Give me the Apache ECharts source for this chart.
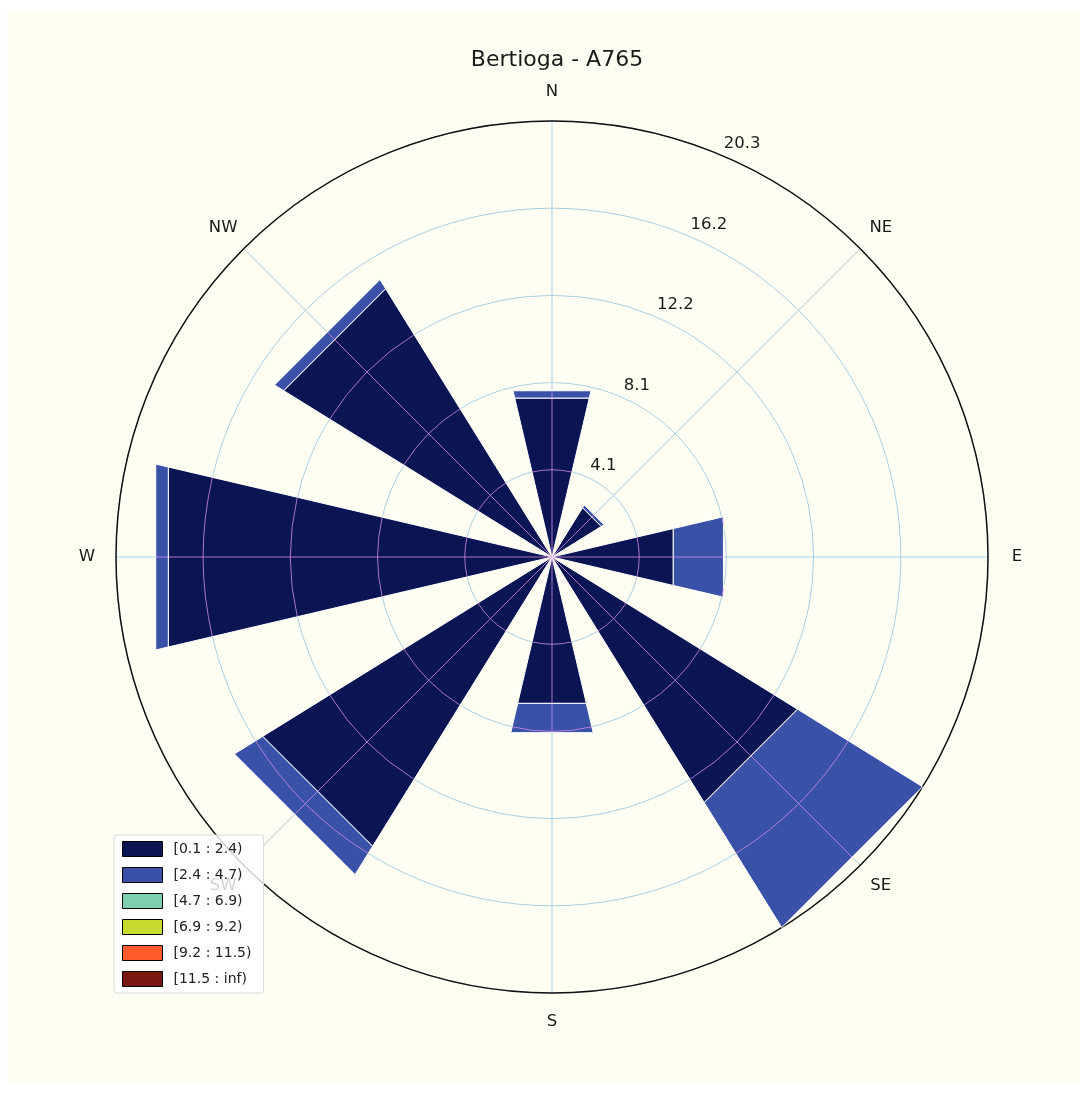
<!DOCTYPE html>
<html>
<head>
<meta charset="utf-8">
<title>Bertioga - A765</title>
<script src="https://cdn.jsdelivr.net/npm/echarts@6/dist/echarts.min.js"></script>
<style>
  html, body { margin: 0; padding: 0; background: #ffffff; }
  #chart { position: absolute; left: 7px; top: 10px; width: 1073px; height: 1073px; }
</style>
</head>
<body>
<div id="chart"></div>
<script>
// Wind directions (one sector each, clockwise from north)
const directions = ['N', 'NE', 'E', 'SE', 'S', 'SW', 'W', 'NW'];

// Wind speed classes (m/s)
const speedBins = ['[0.1 : 2.4)', '[2.4 : 4.7)', '[4.7 : 6.9)', '[6.9 : 9.2)', '[9.2 : 11.5)', '[11.5 : inf)'];

// Frequency (%) of each speed class per direction
const freq_01_24  = [7.6, 2.7, 5.8, 13.45, 7.0, 15.85, 18.35, 14.7];
const freq_24_47  = [0.35, 0.15, 2.4, 6.85, 1.4, 1.55, 0.6, 0.5];
const freq_47_69  = [0, 0, 0, 0, 0, 0, 0, 0];
const freq_69_92  = [0, 0, 0, 0, 0, 0, 0, 0];
const freq_92_115 = [0, 0, 0, 0, 0, 0, 0, 0];
const freq_115_inf = [0, 0, 0, 0, 0, 0, 0, 0];

// Radial rings: outer ring equals the largest sector total
const ringMax = 20.3;
const ringCount = 5;
const ringValues = Array.from({ length: ringCount }, (_, i) => ringMax * (i + 1) / ringCount);

const binFreqs = [freq_01_24, freq_24_47, freq_47_69, freq_69_92, freq_92_115, freq_115_inf];
const binColors = ['#0b1553', '#3a51a8', '#7fcfae', '#c8da2e', '#ff5b2c', '#7a1710'];

const sectorStep = 360 / directions.length;
const halfOpen = 13.2;                 // half angular width of each wedge (deg)
const cosHalf = Math.cos(halfOpen * Math.PI / 180);
const innerLine = 'rgba(210,140,230,0.8)';
const dirLabelGap = 29;                // px between outer circle and direction label centre
const textFont = 'DejaVu Sans';

function wedgeRenderer(params, api) {
  const a = api.value(0), lo = api.value(1), hi = api.value(2);
  if (!(hi > lo)) return;
  const c = api.coord([0, 0]);
  const ref = api.coord([ringMax, 0]);
  const pxPer = Math.hypot(ref[0] - c[0], ref[1] - c[1]) / ringMax;
  const pts = lo > 0
    ? [api.coord([lo, a - halfOpen]), api.coord([lo, a + halfOpen]), api.coord([hi, a + halfOpen]), api.coord([hi, a - halfOpen])]
    : [c, api.coord([hi, a + halfOpen]), api.coord([hi, a - halfOpen])];
  const children = [{
    type: 'polygon',
    shape: { points: pts },
    style: { fill: api.visual('color'), stroke: '#ffffff', lineWidth: 1 }
  }];
  // direction line through the wedge
  const p0 = api.coord([lo * cosHalf, a]);
  const p1 = api.coord([hi * cosHalf, a]);
  children.push({
    type: 'line',
    shape: { x1: p0[0], y1: p0[1], x2: p1[0], y2: p1[1] },
    style: { stroke: innerLine, lineWidth: 1 }
  });
  // ring arcs clipped to the wedge
  const dLo = lo * cosHalf, dHi = hi * cosHalf;
  ringValues.forEach(R => {
    const f1 = R <= dHi ? 0 : Math.acos(Math.min(1, dHi / R));
    let f2;
    if (dLo / R >= 1) f2 = 0;
    else if (dLo / R > cosHalf) f2 = Math.acos(dLo / R);
    else f2 = halfOpen * Math.PI / 180;
    if (f2 <= f1 + 1e-6) return;
    const base = (a - 90) * Math.PI / 180;
    const r = R * pxPer;
    const spans = f1 === 0 ? [[-f2, f2]] : [[-f2, -f1], [f1, f2]];
    spans.forEach(s => {
      children.push({
        type: 'arc',
        shape: { cx: c[0], cy: c[1], r: r, startAngle: base + s[0], endAngle: base + s[1], clockwise: true },
        style: { stroke: innerLine, lineWidth: 1, fill: null }
      });
    });
  });
  return { type: 'group', children: children };
}

// stacked wedges per speed class
const cumulative = directions.map(() => 0);
const wedgeSeries = speedBins.map((name, k) => {
  const data = directions.map((d, i) => {
    const lo = cumulative[i];
    const hi = lo + binFreqs[k][i];
    cumulative[i] = hi;
    return [i * sectorStep, lo, hi];
  });
  return {
    name: name,
    type: 'custom',
    coordinateSystem: 'polar',
    polarIndex: 0,
    itemStyle: { color: binColors[k] },
    renderItem: wedgeRenderer,
    data: data,
    z: 2,
    silent: true
  };
});

// ring value labels along 22.5 deg
const ringLabelSeries = {
  type: 'custom',
  coordinateSystem: 'polar',
  polarIndex: 0,
  silent: true,
  z: 5,
  data: ringValues.map(v => [v]),
  renderItem: function (params, api) {
    const v = api.value(0);
    const p = api.coord([v, 22.5]);
    return {
      type: 'text',
      x: p[0] + 5,
      y: p[1] - 2,
      style: {
        text: v.toFixed(1),
        fill: '#1a1a1a',
        fontSize: 16.5,
        fontFamily: textFont,
        align: 'left',
        verticalAlign: 'bottom'
      }
    };
  }
};

// compass labels centred just outside the outer circle
const dirLabelSeries = {
  type: 'custom',
  coordinateSystem: 'polar',
  polarIndex: 0,
  silent: true,
  z: 1,
  data: directions.map((d, i) => [i * sectorStep]),
  renderItem: function (params, api) {
    const a = api.value(0);
    const c = api.coord([0, 0]);
    const p = api.coord([ringMax, a]);
    const dx = p[0] - c[0], dy = p[1] - c[1];
    const len = Math.hypot(dx, dy);
    const k = (len + dirLabelGap) / len;
    return {
      type: 'text',
      x: c[0] + dx * k,
      y: c[1] + dy * k,
      style: {
        text: directions[params.dataIndex],
        fill: '#1a1a1a',
        fontSize: 16.5,
        fontFamily: textFont,
        align: 'center',
        verticalAlign: 'middle'
      }
    };
  }
};

const chart = echarts.init(document.getElementById('chart'));
chart.setOption({
  backgroundColor: '#fffef2',
  animation: false,
  title: {
    text: 'Bertioga - A765',
    left: 545,
    textAlign: 'center',
    top: 34,
    textStyle: { fontFamily: textFont, fontSize: 22, fontWeight: 'normal', color: '#1a1a1a' }
  },
  legend: {
    data: speedBins,
    orient: 'vertical',
    left: 107,
    top: 825,
    icon: 'rect',
    itemWidth: 40,
    itemHeight: 15,
    itemGap: 10,
    padding: [6, 12, 6, 8],
    backgroundColor: 'rgba(255,255,255,0.8)',
    borderColor: '#dadada',
    borderWidth: 1,
    borderRadius: 3,
    itemStyle: { borderColor: '#000000', borderWidth: 1 },
    textStyle: { fontFamily: textFont, fontSize: 14, color: '#222222', padding: [0, 0, 0, 6] },
    selectedMode: false,
    z: 10
  },
  polar: { center: [545, 547], radius: 436 },
  angleAxis: {
    type: 'value',
    min: 0,
    max: 360,
    interval: sectorStep,
    startAngle: 90,
    clockwise: true,
    axisLine: { show: true, lineStyle: { color: '#111111', width: 1.5 } },
    axisTick: { show: false },
    axisLabel: { show: false },
    splitLine: { show: true, lineStyle: { color: '#a9d0e2', width: 1 } }
  },
  radiusAxis: {
    type: 'value',
    min: 0,
    max: ringMax,
    interval: ringMax / ringCount,
    axisLine: { show: false },
    axisTick: { show: false },
    axisLabel: { show: false },
    splitLine: { show: true, lineStyle: { color: '#a9d0e2', width: 1 } }
  },
  series: wedgeSeries.concat([ringLabelSeries, dirLabelSeries])
});
</script>
</body>
</html>
